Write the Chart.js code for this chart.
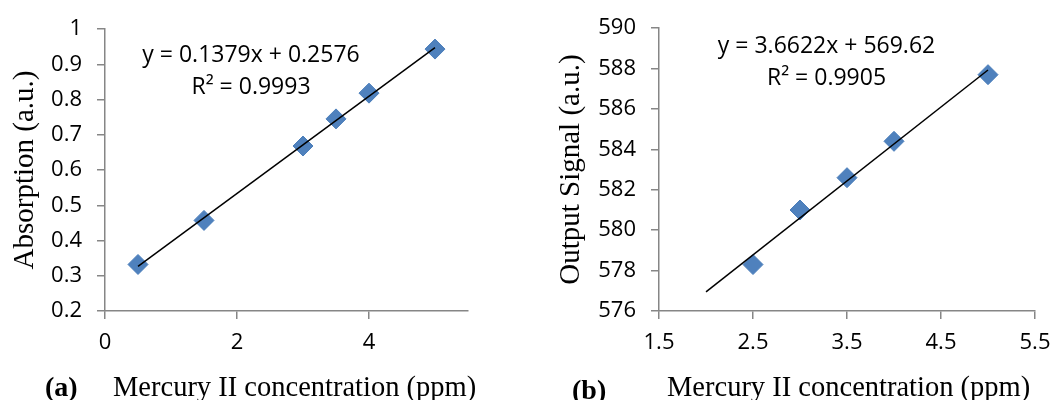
<!DOCTYPE html>
<html>
<head>
<meta charset="utf-8">
<script src="https://cdn.jsdelivr.net/npm/chart.js@4.4.0/dist/chart.umd.min.js"></script>
<style>
  html, body { margin: 0; padding: 0; background: #fff; overflow: hidden; }
  #wrap { position: relative; width: 1063px; height: 400px; }
  .box { position: absolute; top: 0; height: 400px; }
</style>
</head>
<body>
<div id="wrap">
  <div class="box" style="left:0;width:531px"><canvas id="chartA"></canvas></div>
  <div class="box" style="left:531px;width:532px"><canvas id="chartB"></canvas></div>
</div>
<script>
// panel (a): absorption vs mercury concentration
const concA = [0.5, 1.5, 3, 3.5, 4, 5];
const absorptionA = [0.332, 0.457, 0.668, 0.745, 0.818, 0.943];
const fitA = [0.1379, 0.2576, 0.9993]; // slope, intercept, R²
const trendXA = [0.5, 5];
const xTicksA = [0, 2, 4];
const yTicksA = [0.2, 0.3, 0.4, 0.5, 0.6, 0.7, 0.8, 0.9, 1];

// panel (b): output signal vs mercury concentration
const concB = [2.5, 3, 3.5, 4, 5];
const signalB = [578.3, 581.0, 582.6, 584.4, 587.7];
const fitB = [3.6622, 569.62, 0.9905];
const trendXB = [2, 5];
const xTicksB = [1.5, 2.5, 3.5, 4.5, 5.5];
const yTicksB = [576, 578, 580, 582, 584, 586, 588, 590];

const AXIS_GREY = '#868686';
const MARKER_BLUE = '#4F81BD';
const tickFont = { family: '"Open Sans", sans-serif', size: 22 };

// equations, panel letter and x axis title
const captions = {
  id: 'captions',
  afterDraw(chart, args, opts) {
    const ctx = chart.ctx;
    ctx.save();
    ctx.fillStyle = '#000';
    ctx.textBaseline = 'alphabetic';
    ctx.textAlign = 'center';
    ctx.font = '23px "Open Sans", sans-serif';
    opts.lines.forEach((line, i) => {
      ctx.fillText(line, opts.eqX, opts.eqY + i * 32);
    });
    ctx.font = 'bold 28px "Liberation Serif", serif';
    ctx.textAlign = 'left';
    ctx.fillText(opts.panel, opts.panelX, opts.panelY);
    ctx.font = '28.5px "Liberation Serif", serif';
    ctx.fillText(opts.xTitle, opts.xTitleX, 396);
    ctx.restore();
  }
};

function fmtFit(fit) {
  return [
    'y = ' + fit[0] + 'x + ' + fit[1],
    'R\u00B2 = ' + fit[2]
  ];
}

function makeChart(id, xs, ys, fit, trendX, xTicks, yTicks, yTitle, geom) {
  const trend = trendX.map(x => ({ x: x, y: fit[0] * x + fit[1] }));
  const points = xs.map((x, i) => ({ x: x, y: ys[i] }));
  return new Chart(document.getElementById(id), {
    type: 'scatter',
    data: {
      datasets: [
        {
          type: 'line',
          data: trend,
          borderColor: '#000',
          borderWidth: 1.5,
          pointRadius: 0,
          fill: false
        },
        {
          data: points,
          pointStyle: 'rectRot',
          pointRadius: 10,
          backgroundColor: MARKER_BLUE,
          borderColor: '#4A7DBA',
          borderWidth: 1
        }
      ]
    },
    options: {
      responsive: true,
      maintainAspectRatio: false,
      animation: false,
      layout: { padding: { left: 0, top: geom.top, right: geom.right, bottom: 0 } },
      plugins: {
        legend: { display: false },
        tooltip: { enabled: false },
        captions: {
          lines: fmtFit(fit),
          eqX: geom.eqX, eqY: geom.eqY,
          panel: geom.panel, panelX: geom.panelX, panelY: geom.panelY,
          xTitle: 'Mercury II concentration (ppm)', xTitleX: geom.xTitleX
        }
      },
      scales: {
        x: {
          type: 'linear',
          min: xTicks[0],
          max: geom.xMax,
          afterBuildTicks: s => { s.ticks = xTicks.map(v => ({ value: v })); },
          afterFit: s => { s.height = 89; },
          ticks: { font: tickFont, color: '#000', padding: 11, maxRotation: 0,
                   callback: v => String(v) },
          grid: { drawOnChartArea: false, drawTicks: true, tickLength: 8, color: AXIS_GREY, lineWidth: 1.5 },
          border: { color: AXIS_GREY, width: 1.5 }
        },
        y: {
          type: 'linear',
          min: yTicks[0],
          max: yTicks[yTicks.length - 1],
          afterBuildTicks: s => { s.ticks = yTicks.map(v => ({ value: v })); },
          afterFit: s => { s.width = geom.yWidth; },
          ticks: { font: tickFont, color: '#000', padding: 15,
                   callback: v => String(v) },
          grid: { drawOnChartArea: false, drawTicks: true, tickLength: 8, color: AXIS_GREY, lineWidth: 1.5 },
          border: { color: AXIS_GREY, width: 1.5 },
          title: {
            display: true,
            text: yTitle,
            color: '#000',
            font: { family: '"Liberation Serif", serif', size: 29, lineHeight: 1 },
            padding: { top: geom.yTitlePad, bottom: 0 }
          }
        }
      }
    },
    plugins: [captions]
  });
}

makeChart('chartA', concA, absorptionA, fitA, trendXA, xTicksA, yTicksA, 'Absorption (a.u.)', {
  top: 29, right: 63, yWidth: 105, xMax: 5.5, yTitlePad: 11,
  eqX: 251, eqY: 62, panel: '(a)', panelX: 45, panelY: 396, xTitleX: 113
});

makeChart('chartB', concB, signalB, fitB, trendXB, xTicksB, yTicksB, 'Output Signal (a.u.)', {
  top: 23, right: 28, yWidth: 128, xMax: 5.5, yTitlePad: 26,
  eqX: 295.5, eqY: 53, panel: '(b)', panelX: 41, panelY: 399, xTitleX: 136
});
</script>
</body>
</html>
